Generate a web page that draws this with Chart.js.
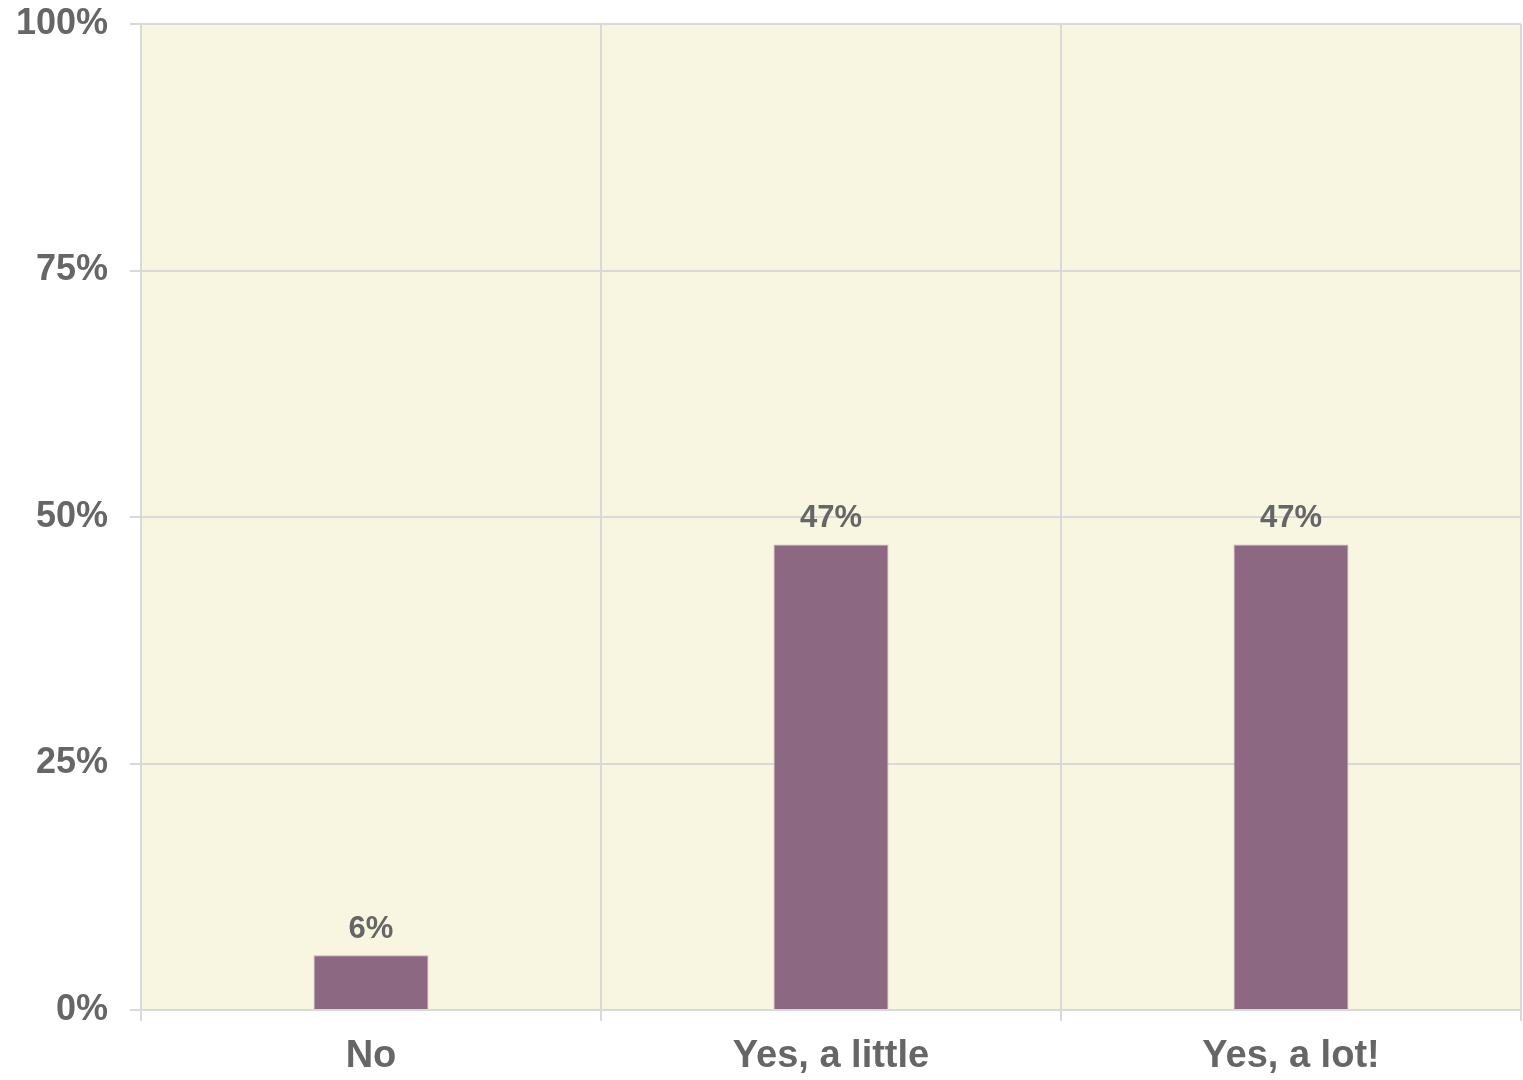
<!DOCTYPE html>
<html>
<head>
<meta charset="utf-8">
<script src="https://cdn.jsdelivr.net/npm/chart.js@4"></script>
<style>
  html, body { margin: 0; padding: 0; background: #ffffff; }
  #wrap { width: 1523px; height: 1080px; }
</style>
</head>
<body>
<div id="wrap"><canvas id="answers" width="1523" height="1080"></canvas></div>
<script>
const categories = ["No", "Yes, a little", "Yes, a lot!"];
const shares = [5.56, 47.22, 47.22];
const yTicks = [0, 25, 50, 75, 100];

const textColor = "#666666";
const fontFamily = "'Liberation Sans', Arial, sans-serif";

// fill the plot area with the cream background
const plotBackground = {
  id: "plotBackground",
  beforeDraw(chart) {
    const { ctx, chartArea } = chart;
    ctx.save();
    ctx.fillStyle = "#f8f6e1";
    ctx.fillRect(chartArea.left, chartArea.top, chartArea.width, chartArea.height);
    ctx.restore();
  }
};

// percentage above each bar
const barLabels = {
  id: "barLabels",
  afterDatasetsDraw(chart) {
    const { ctx } = chart;
    const meta = chart.getDatasetMeta(0);
    ctx.save();
    ctx.font = "bold 31px " + fontFamily;
    ctx.fillStyle = textColor;
    ctx.textAlign = "center";
    ctx.textBaseline = "alphabetic";
    meta.data.forEach((bar, i) => {
      ctx.fillText(Math.round(shares[i]) + "%", bar.x, bar.y - 17);
    });
    ctx.restore();
  }
};

new Chart(document.getElementById("answers"), {
  type: "bar",
  data: {
    labels: categories,
    datasets: [{
      data: shares,
      backgroundColor: "#8c6883",
      borderColor: "#c7b0c0",
      borderWidth: 1,
      barPercentage: 0.25,
      categoryPercentage: 1
    }]
  },
  options: {
    responsive: false,
    animation: false,
    layout: { padding: { top: 24, right: 2, left: 0, bottom: 0 } },
    plugins: {
      legend: { display: false },
      tooltip: { enabled: false }
    },
    scales: {
      x: {
        grid: { color: "#d9d9d9", lineWidth: 2, tickLength: 11, offset: true },
        border: { color: "#d9d9d9", width: 2 },
        ticks: {
          color: textColor,
          font: { family: fontFamily, size: 38, weight: "bold" },
          padding: 13
        },
        afterFit(scale) { scale.height = 70; }
      },
      y: {
        min: 0,
        max: 100,
        afterBuildTicks(scale) { scale.ticks = yTicks.map(v => ({ value: v })); },
        grid: { color: "#d9d9d9", lineWidth: 2, tickLength: 11 },
        border: { color: "#d9d9d9", width: 2 },
        ticks: {
          color: textColor,
          font: { family: fontFamily, size: 36, weight: "bold" },
          padding: 22,
          callback: v => v + "%"
        },
        afterFit(scale) {
          scale.width = 141;
          scale.paddingTop = 0;
          scale.paddingBottom = 0;
        }
      }
    }
  },
  plugins: [plotBackground, barLabels]
});
</script>
</body>
</html>
